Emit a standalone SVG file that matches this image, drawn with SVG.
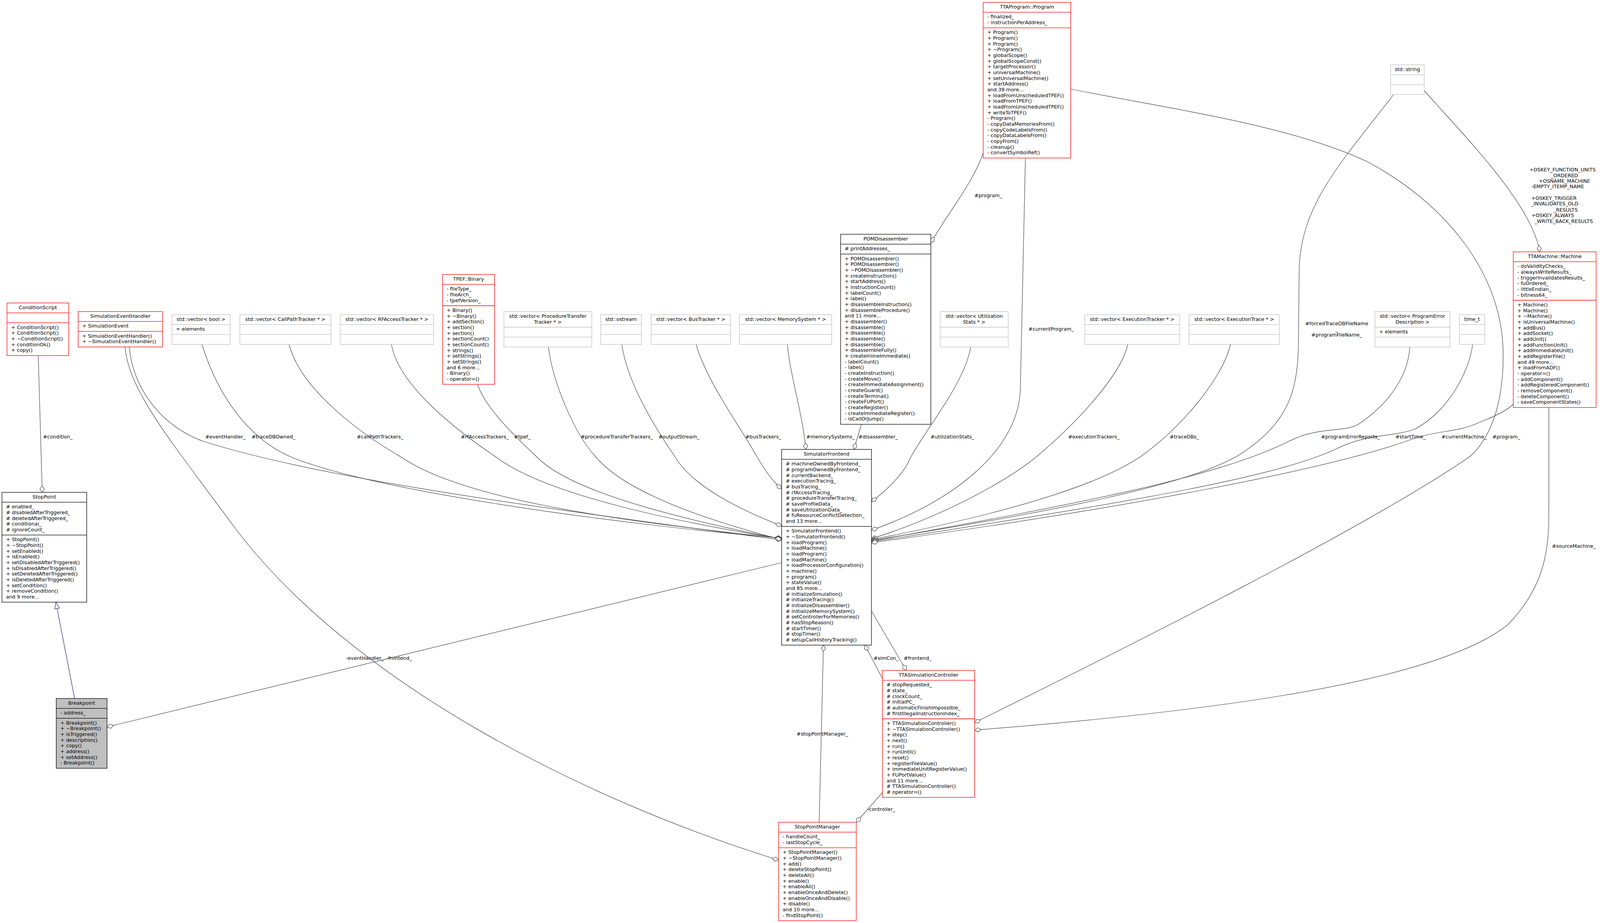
<svg xmlns="http://www.w3.org/2000/svg" width="4147" height="2364" viewBox="0 0 4147 2364">
<style>
text{font-family:"DejaVu Sans","Liberation Sans",sans-serif;font-size:12.7px;fill:#000}
.c{text-anchor:middle}
.n rect{fill:#fff;stroke:#000;stroke-width:1.3}
.n path{fill:none;stroke:#000;stroke-width:1.3}
.r rect,.r path{stroke:#ff0000}
.g rect,.g path{stroke:#bfbfbf}
.bp rect{fill:#bfbfbf}
.e path{fill:none;stroke:#404040;stroke-width:1.2;marker-start:url(#dia)}
.e path.inh{stroke:#191970;marker-start:none;marker-end:url(#tri)}
</style>
<defs>
<marker id="dia" markerUnits="userSpaceOnUse" markerWidth="22" markerHeight="16" refX="1" refY="8" orient="auto" overflow="visible"><path d="M1,8 L9.5,2.5 L18,8 L9.5,13.5 Z" fill="#fff" stroke="#404040" stroke-width="1.2"/></marker>
<marker id="tri" markerUnits="userSpaceOnUse" markerWidth="20" markerHeight="14" refX="17" refY="7" orient="auto" overflow="visible"><path d="M0,1 L17,7 L0,13 Z" fill="#fff" stroke="#191970" stroke-width="1.2"/></marker>
</defs>
<rect width="4147" height="2364" fill="#fff"/>

<g id="edges" class="e">
<path d="M108 1261 L98 911"/>
<path class="inh" d="M191 1789 L143 1542"/>
<path d="M274 1862 L2001 1441"/>
<path d="M1993 2203 C1500 2050 900 1750 600 1350 C430 1120 330 1000 320 889"/>
<path d="M2001 1383 C1300 1290 800 1220 520 1130 C420 1095 340 1000 331 889"/>
<path d="M2001 1378 C1600 1345 960 1260 744 1170 C640 1125 560 1020 517 882"/>
<path d="M2001 1379 C1650 1340 1200 1290 1026 1170 C930 1115 770 1000 740 882"/>
<path d="M2001 1380 C1750 1340 1400 1270 1269 1170 C1180 1110 1020 990 1002 882"/>
<path d="M2001 1381 C1800 1340 1470 1270 1374 1170 C1310 1110 1240 1040 1223 985"/>
<path d="M2001 1382 C1800 1330 1600 1260 1525 1170 C1470 1110 1415 980 1404 889"/>
<path d="M2001 1347 C1880 1300 1770 1240 1728 1170 C1680 1100 1605 980 1592 882"/>
<path d="M2001 1252 C1975 1230 1955 1200 1938 1170 C1900 1100 1810 980 1782 882"/>
<path d="M2063 1151 C2055 1060 2020 950 2016 882"/>
<path d="M2186 1151 L2205 1087"/>
<path d="M2231 1285 C2290 1240 2320 1200 2332 1170 C2370 1100 2470 980 2485 889"/>
<path d="M2231 1358 C2450 1280 2605 1150 2612 1000 L2625 405"/>
<path d="M2231 1380 C2420 1320 2580 1230 2653 1170 C2760 1080 2870 960 2887 882"/>
<path d="M2231 1382 C2550 1320 2800 1250 2919 1170 C3020 1100 3130 970 3150 882"/>
<path d="M2231 1384 C2700 1310 3060 1240 3180 1160 C3300 1080 3322 1000 3324 880 L3326 680 C3335 520 3430 420 3567 243"/>
<path d="M2231 1386 C2700 1300 3100 1230 3300 1130 C3380 1090 3440 1110 3480 1085 C3560 1030 3605 960 3609 889"/>
<path d="M2231 1388 C2800 1300 3250 1230 3420 1150 C3500 1110 3560 1120 3620 1100 C3700 1060 3760 960 3770 882"/>
<path d="M2231 1390 C2900 1300 3400 1200 3600 1130 C3680 1100 3720 1110 3780 1085 C3830 1065 3860 1050 3874 1035"/>
<path d="M2495 1851 C2900 1650 3500 1350 3762 1170 C3830 1110 3850 1000 3848 900 C3845 700 3700 520 3500 414 C3300 320 3000 280 2741 228"/>
<path d="M2495 1870 C3000 1830 3660 1760 3860 1600 C3958 1500 3966 1400 3965 1300 L3965 1044"/>
<path d="M2214 1652 L2259 1738"/>
<path d="M2320 1717 L2231 1565"/>
<path d="M2108 1652 L2097 2106"/>
<path d="M2192 2106 L2259 2030"/>
<path d="M2383 622 C2430 540 2490 470 2517 392"/>
<path d="M3942 645 C3920 520 3750 350 3646 232"/>
</g>

<g id="edge-labels">
<text class="c" x="148" y="1123">#condition_</text>
<text class="c" x="577" y="1123">#eventHandler_</text>
<text class="c" x="700" y="1123">#traceDBOwned_</text>
<text class="c" x="973" y="1123">#callPathTrackers_</text>
<text class="c" x="1241" y="1123">#rfAccessTrackers_</text>
<text class="c" x="1337" y="1123">#tpef_</text>
<text class="c" x="1579" y="1123">#procedureTransferTrackers_</text>
<text class="c" x="1738" y="1123">#outputStream_</text>
<text class="c" x="1954" y="1123">#busTrackers_</text>
<text class="c" x="2126" y="1123">#memorySystems_</text>
<text class="c" x="2248" y="1123">#disassembler_</text>
<text class="c" x="2438" y="1123">#utilizationStats_</text>
<text class="c" x="2800" y="1123">#executionTrackers_</text>
<text class="c" x="3032" y="1123">#traceDBs_</text>
<text class="c" x="3457" y="1123">#programErrorReports_</text>
<text class="c" x="3611" y="1123">#startTime_</text>
<text class="c" x="3748" y="1123">#currentMachine_</text>
<text class="c" x="3856" y="1123">#program_</text>
<text class="c" x="2530" y="505">#program_</text>
<text class="c" x="2691" y="847">#currentProgram_</text>
<text class="c" x="3422" y="833">#forcedTraceDBFileName</text>
<text class="c" x="3422" y="848">_</text>
<text class="c" x="3422" y="862">#programFileName_</text>
<text class="c" x="934" y="1690">-eventHandler_</text>
<text class="c" x="1022" y="1690">-frontend_</text>
<text class="c" x="2268" y="1690">#simCon_</text>
<text class="c" x="2349" y="1690">#frontend_</text>
<text class="c" x="2105" y="1884">#stopPointManager_</text>
<text class="c" x="2256" y="2077">-controller_</text>
<text x="3973" y="1403">#sourceMachine_</text>
<text class="c" x="4000" y="439">+OSKEY_FUNCTION_UNITS</text>
<text class="c" x="4005" y="454">_ORDERED</text>
<text class="c" x="4005" y="468">+OSNAME_MACHINE</text>
<text class="c" x="3988" y="482">-EMPTY_ITEMP_NAME</text>
<text class="c" x="3978" y="512">+OSKEY_TRIGGER</text>
<text class="c" x="3980" y="526">_INVALIDATES_OLD</text>
<text class="c" x="4008" y="542">_RESULTS</text>
<text class="c" x="3975" y="556">+OSKEY_ALWAYS</text>
<text class="c" x="4003" y="571">_WRITE_BACK_RESULTS</text>
</g>

<g id="ConditionScript" class="n r">
<rect x="18" y="776" width="158" height="134.67"/>
<path d="M18 801.33H176M18 826.67H176"/>
<text class="c" x="97" y="792">ConditionScript</text>
<text x="28.5" y="842.67"><tspan x="28.5">+ ConditionScript()</tspan><tspan x="28.5" dy="14.67">+ ConditionScript()</tspan><tspan x="28.5" dy="14.67">+ ~ConditionScript()</tspan><tspan x="28.5" dy="14.67">+ conditionOk()</tspan><tspan x="28.5" dy="14.67">+ copy()</tspan></text>
</g>

<g id="SimulationEventHandler" class="n r">
<rect x="200" y="798" width="216" height="90.67"/>
<path d="M200 823.33H416M200 848.67H416"/>
<text class="c" x="308" y="814">SimulationEventHandler</text>
<text x="210.5" y="839.33">+ SimulationEvent</text>
<text x="210.5" y="864.67"><tspan x="210.5">+ SimulationEventHandler()</tspan><tspan x="210.5" dy="14.67">+ ~SimulationEventHandler()</tspan></text>
</g>

<g id="vector_bool" class="n g">
<rect x="440" y="806" width="149" height="76"/>
<path d="M440 831.33H589M440 856.67H589"/>
<text class="c" x="514.5" y="822">std::vector&lt; bool &gt;</text>
<text x="450.5" y="847.33">+ elements</text>
</g>

<g id="vector_CallPathTracker" class="n g">
<rect x="614" y="806" width="233" height="76"/>
<path d="M614 831.33H847M614 856.67H847"/>
<text class="c" x="730.5" y="822">std::vector&lt; CallPathTracker * &gt;</text>
</g>

<g id="vector_RFAccessTracker" class="n g">
<rect x="871" y="806" width="239" height="76"/>
<path d="M871 831.33H1110M871 856.67H1110"/>
<text class="c" x="990.5" y="822">std::vector&lt; RFAccessTracker * &gt;</text>
</g>

<g id="TPEF_Binary" class="n r">
<rect x="1133" y="703" width="133" height="281.33"/>
<path d="M1133 728.33H1266M1133 783H1266"/>
<text class="c" x="1199.5" y="719">TPEF::Binary</text>
<text x="1143.5" y="744.33"><tspan x="1143.5">- fileType_</tspan><tspan x="1143.5" dy="14.67">- fileArch_</tspan><tspan x="1143.5" dy="14.67">- tpefVersion_</tspan></text>
<text x="1143.5" y="799"><tspan x="1143.5">+ Binary()</tspan><tspan x="1143.5" dy="14.67">+ ~Binary()</tspan><tspan x="1143.5" dy="14.67">+ addSection()</tspan><tspan x="1143.5" dy="14.67">+ section()</tspan><tspan x="1143.5" dy="14.67">+ section()</tspan><tspan x="1143.5" dy="14.67">+ sectionCount()</tspan><tspan x="1143.5" dy="14.67">+ sectionCount()</tspan><tspan x="1143.5" dy="14.67">+ strings()</tspan><tspan x="1143.5" dy="14.67">+ setStrings()</tspan><tspan x="1143.5" dy="14.67">+ setStrings()</tspan><tspan x="1143.5" dy="14.67">and 6 more...</tspan><tspan x="1143.5" dy="14.67">- Binary()</tspan><tspan x="1143.5" dy="14.67">- operator=()</tspan></text>
</g>

<g id="vector_ProcedureTransferTracker" class="n g">
<rect x="1290" y="798" width="225" height="90.67"/>
<path d="M1290 838H1515M1290 863.33H1515"/>
<text class="c" x="1402.5" y="814"><tspan x="1402.5">std::vector&lt; ProcedureTransfer</tspan><tspan x="1402.5" dy="14.67">Tracker * &gt;</tspan></text>
</g>

<g id="std_ostream" class="n g">
<rect x="1538" y="806" width="104" height="76"/>
<path d="M1538 831.33H1642M1538 856.67H1642"/>
<text class="c" x="1590" y="822">std::ostream</text>
</g>

<g id="vector_BusTracker" class="n g">
<rect x="1667" y="806" width="203" height="76"/>
<path d="M1667 831.33H1870M1667 856.67H1870"/>
<text class="c" x="1768.5" y="822">std::vector&lt; BusTracker * &gt;</text>
</g>

<g id="vector_MemorySystem" class="n g">
<rect x="1893" y="806" width="236" height="76"/>
<path d="M1893 831.33H2129M1893 856.67H2129"/>
<text class="c" x="2011" y="822">std::vector&lt; MemorySystem * &gt;</text>
</g>

<g id="POMDisassembler" class="n">
<rect x="2152" y="600" width="231" height="486.67"/>
<path d="M2152 625.33H2383M2152 650.67H2383"/>
<text class="c" x="2267.5" y="616">POMDisassembler</text>
<text x="2162.5" y="641.33"># printAddresses_</text>
<text x="2162.5" y="666.67"><tspan x="2162.5">+ POMDisassembler()</tspan><tspan x="2162.5" dy="14.67">+ POMDisassembler()</tspan><tspan x="2162.5" dy="14.67">+ ~POMDisassembler()</tspan><tspan x="2162.5" dy="14.67">+ createInstruction()</tspan><tspan x="2162.5" dy="14.67">+ startAddress()</tspan><tspan x="2162.5" dy="14.67">+ instructionCount()</tspan><tspan x="2162.5" dy="14.67">+ labelCount()</tspan><tspan x="2162.5" dy="14.67">+ label()</tspan><tspan x="2162.5" dy="14.67">+ disassembleInstruction()</tspan><tspan x="2162.5" dy="14.67">+ disassembleProcedure()</tspan><tspan x="2162.5" dy="14.67">and 11 more...</tspan><tspan x="2162.5" dy="14.67">+ disassembler()</tspan><tspan x="2162.5" dy="14.67">+ disassemble()</tspan><tspan x="2162.5" dy="14.67">+ disassemble()</tspan><tspan x="2162.5" dy="14.67">+ disassemble()</tspan><tspan x="2162.5" dy="14.67">+ disassemble()</tspan><tspan x="2162.5" dy="14.67">+ disassembleFully()</tspan><tspan x="2162.5" dy="14.67">+ createInlineImmediate()</tspan><tspan x="2162.5" dy="14.67">- labelCount()</tspan><tspan x="2162.5" dy="14.67">- label()</tspan><tspan x="2162.5" dy="14.67">- createInstruction()</tspan><tspan x="2162.5" dy="14.67">- createMove()</tspan><tspan x="2162.5" dy="14.67">- createImmediateAssignment()</tspan><tspan x="2162.5" dy="14.67">- createGuard()</tspan><tspan x="2162.5" dy="14.67">- createTerminal()</tspan><tspan x="2162.5" dy="14.67">- createFUPort()</tspan><tspan x="2162.5" dy="14.67">- createRegister()</tspan><tspan x="2162.5" dy="14.67">- createImmediateRegister()</tspan><tspan x="2162.5" dy="14.67">- isCallOrJump()</tspan></text>
</g>

<g id="TTAProgram_Program" class="n r">
<rect x="2517" y="6" width="224" height="398.67"/>
<path d="M2517 31.33H2741M2517 71.33H2741"/>
<text class="c" x="2629" y="22">TTAProgram::Program</text>
<text x="2527.5" y="47.33"><tspan x="2527.5">- finalized_</tspan><tspan x="2527.5" dy="14.67">- instructionPerAddress_</tspan></text>
<text x="2527.5" y="87.33"><tspan x="2527.5">+ Program()</tspan><tspan x="2527.5" dy="14.67">+ Program()</tspan><tspan x="2527.5" dy="14.67">+ Program()</tspan><tspan x="2527.5" dy="14.67">+ ~Program()</tspan><tspan x="2527.5" dy="14.67">+ globalScope()</tspan><tspan x="2527.5" dy="14.67">+ globalScopeConst()</tspan><tspan x="2527.5" dy="14.67">+ targetProcessor()</tspan><tspan x="2527.5" dy="14.67">+ universalMachine()</tspan><tspan x="2527.5" dy="14.67">+ setUniversalMachine()</tspan><tspan x="2527.5" dy="14.67">+ startAddress()</tspan><tspan x="2527.5" dy="14.67">and 39 more...</tspan><tspan x="2527.5" dy="14.67">+ loadFromUnscheduledTPEF()</tspan><tspan x="2527.5" dy="14.67">+ loadFromTPEF()</tspan><tspan x="2527.5" dy="14.67">+ loadFromUnscheduledTPEF()</tspan><tspan x="2527.5" dy="14.67">+ writeToTPEF()</tspan><tspan x="2527.5" dy="14.67">- Program()</tspan><tspan x="2527.5" dy="14.67">- copyDataMemoriesFrom()</tspan><tspan x="2527.5" dy="14.67">- copyCodeLabelsFrom()</tspan><tspan x="2527.5" dy="14.67">- copyDataLabelsFrom()</tspan><tspan x="2527.5" dy="14.67">- copyFrom()</tspan><tspan x="2527.5" dy="14.67">- cleanup()</tspan><tspan x="2527.5" dy="14.67">- convertSymbolRef()</tspan></text>
</g>

<g id="vector_UtilizationStats" class="n g">
<rect x="2407" y="798" width="174" height="90.67"/>
<path d="M2407 838H2581M2407 863.33H2581"/>
<text class="c" x="2494" y="814"><tspan x="2494">std::vector&lt; Utilization</tspan><tspan x="2494" dy="14.67">Stats * &gt;</tspan></text>
</g>

<g id="vector_ExecutionTracker" class="n g">
<rect x="2777" y="806" width="243" height="76"/>
<path d="M2777 831.33H3020M2777 856.67H3020"/>
<text class="c" x="2898.5" y="822">std::vector&lt; ExecutionTracker * &gt;</text>
</g>

<g id="vector_ExecutionTrace" class="n g">
<rect x="3044" y="806" width="231" height="76"/>
<path d="M3044 831.33H3275M3044 856.67H3275"/>
<text class="c" x="3159.5" y="822">std::vector&lt; ExecutionTrace * &gt;</text>
</g>

<g id="std_string" class="n g">
<rect x="3560" y="166" width="86" height="76"/>
<path d="M3560 191.33H3646M3560 216.67H3646"/>
<text class="c" x="3603" y="182">std::string</text>
</g>

<g id="vector_ProgramErrorDescription" class="n g">
<rect x="3520" y="798" width="192" height="90.67"/>
<path d="M3520 838H3712M3520 863.33H3712"/>
<text class="c" x="3616" y="814"><tspan x="3616">std::vector&lt; ProgramError</tspan><tspan x="3616" dy="14.67">Description &gt;</tspan></text>
<text x="3530.5" y="854">+ elements</text>
</g>

<g id="time_t" class="n g">
<rect x="3736" y="806" width="65" height="76"/>
<path d="M3736 831.33H3801M3736 856.67H3801"/>
<text class="c" x="3768.5" y="822">time_t</text>
</g>

<g id="TTAMachine_Machine" class="n r">
<rect x="3874" y="645" width="212" height="398.67"/>
<path d="M3874 670.33H4086M3874 769H4086"/>
<text class="c" x="3980" y="661">TTAMachine::Machine</text>
<text x="3884.5" y="686.33"><tspan x="3884.5">- doValidityChecks_</tspan><tspan x="3884.5" dy="14.67">- alwaysWriteResults_</tspan><tspan x="3884.5" dy="14.67">- triggerInvalidatesResults_</tspan><tspan x="3884.5" dy="14.67">- fuOrdered_</tspan><tspan x="3884.5" dy="14.67">- littleEndian_</tspan><tspan x="3884.5" dy="14.67">- bitness64_</tspan></text>
<text x="3884.5" y="785"><tspan x="3884.5">+ Machine()</tspan><tspan x="3884.5" dy="14.67">+ Machine()</tspan><tspan x="3884.5" dy="14.67">+ ~Machine()</tspan><tspan x="3884.5" dy="14.67">+ isUniversalMachine()</tspan><tspan x="3884.5" dy="14.67">+ addBus()</tspan><tspan x="3884.5" dy="14.67">+ addSocket()</tspan><tspan x="3884.5" dy="14.67">+ addUnit()</tspan><tspan x="3884.5" dy="14.67">+ addFunctionUnit()</tspan><tspan x="3884.5" dy="14.67">+ addImmediateUnit()</tspan><tspan x="3884.5" dy="14.67">+ addRegisterFile()</tspan><tspan x="3884.5" dy="14.67">and 49 more...</tspan><tspan x="3884.5" dy="14.67">+ loadFromADF()</tspan><tspan x="3884.5" dy="14.67">- operator=()</tspan><tspan x="3884.5" dy="14.67">- addComponent()</tspan><tspan x="3884.5" dy="14.67">- addRegisteredComponent()</tspan><tspan x="3884.5" dy="14.67">- removeComponent()</tspan><tspan x="3884.5" dy="14.67">- deleteComponent()</tspan><tspan x="3884.5" dy="14.67">- saveComponentStates()</tspan></text>
</g>

<g id="SimulatorFrontend" class="n">
<rect x="2001" y="1151" width="230" height="501.33"/>
<path d="M2001 1176.33H2231M2001 1348.33H2231"/>
<text class="c" x="2116" y="1167">SimulatorFrontend</text>
<text x="2011.5" y="1192.33"><tspan x="2011.5"># machineOwnedByFrontend_</tspan><tspan x="2011.5" dy="14.67"># programOwnedByFrontend_</tspan><tspan x="2011.5" dy="14.67"># currentBackend_</tspan><tspan x="2011.5" dy="14.67"># executionTracing_</tspan><tspan x="2011.5" dy="14.67"># busTracing_</tspan><tspan x="2011.5" dy="14.67"># rfAccessTracing_</tspan><tspan x="2011.5" dy="14.67"># procedureTransferTracing_</tspan><tspan x="2011.5" dy="14.67"># saveProfileData_</tspan><tspan x="2011.5" dy="14.67"># saveUtilizationData_</tspan><tspan x="2011.5" dy="14.67"># fuResourceConflictDetection_</tspan><tspan x="2011.5" dy="14.67">and 13 more...</tspan></text>
<text x="2011.5" y="1364.33"><tspan x="2011.5">+ SimulatorFrontend()</tspan><tspan x="2011.5" dy="14.67">+ ~SimulatorFrontend()</tspan><tspan x="2011.5" dy="14.67">+ loadProgram()</tspan><tspan x="2011.5" dy="14.67">+ loadMachine()</tspan><tspan x="2011.5" dy="14.67">+ loadProgram()</tspan><tspan x="2011.5" dy="14.67">+ loadMachine()</tspan><tspan x="2011.5" dy="14.67">+ loadProcessorConfiguration()</tspan><tspan x="2011.5" dy="14.67">+ machine()</tspan><tspan x="2011.5" dy="14.67">+ program()</tspan><tspan x="2011.5" dy="14.67">+ stateValue()</tspan><tspan x="2011.5" dy="14.67">and 85 more...</tspan><tspan x="2011.5" dy="14.67"># initializeSimulation()</tspan><tspan x="2011.5" dy="14.67"># initializeTracing()</tspan><tspan x="2011.5" dy="14.67"># initializeDisassembler()</tspan><tspan x="2011.5" dy="14.67"># initializeMemorySystem()</tspan><tspan x="2011.5" dy="14.67"># setControllerForMemories()</tspan><tspan x="2011.5" dy="14.67"># hasStopReason()</tspan><tspan x="2011.5" dy="14.67"># startTimer()</tspan><tspan x="2011.5" dy="14.67"># stopTimer()</tspan><tspan x="2011.5" dy="14.67"># setupCallHistoryTracking()</tspan></text>
</g>

<g id="TTASimulationController" class="n r">
<rect x="2259" y="1717" width="236" height="325.33"/>
<path d="M2259 1742.33H2495M2259 1841H2495"/>
<text class="c" x="2377" y="1733">TTASimulationController</text>
<text x="2269.5" y="1758.33"><tspan x="2269.5"># stopRequested_</tspan><tspan x="2269.5" dy="14.67"># state_</tspan><tspan x="2269.5" dy="14.67"># clockCount_</tspan><tspan x="2269.5" dy="14.67"># initialPC_</tspan><tspan x="2269.5" dy="14.67"># automaticFinishImpossible_</tspan><tspan x="2269.5" dy="14.67"># firstIllegalInstructionIndex_</tspan></text>
<text x="2269.5" y="1857"><tspan x="2269.5">+ TTASimulationController()</tspan><tspan x="2269.5" dy="14.67">+ ~TTASimulationController()</tspan><tspan x="2269.5" dy="14.67">+ step()</tspan><tspan x="2269.5" dy="14.67">+ next()</tspan><tspan x="2269.5" dy="14.67">+ run()</tspan><tspan x="2269.5" dy="14.67">+ runUntil()</tspan><tspan x="2269.5" dy="14.67">+ reset()</tspan><tspan x="2269.5" dy="14.67">+ registerFileValue()</tspan><tspan x="2269.5" dy="14.67">+ immediateUnitRegisterValue()</tspan><tspan x="2269.5" dy="14.67">+ FUPortValue()</tspan><tspan x="2269.5" dy="14.67">and 11 more...</tspan><tspan x="2269.5" dy="14.67"># TTASimulationController()</tspan><tspan x="2269.5" dy="14.67"># operator=()</tspan></text>
</g>

<g id="StopPointManager" class="n r">
<rect x="1993" y="2106" width="199" height="252"/>
<path d="M1993 2131.33H2192M1993 2171.33H2192"/>
<text class="c" x="2092.5" y="2122">StopPointManager</text>
<text x="2003.5" y="2147.33"><tspan x="2003.5">- handleCount_</tspan><tspan x="2003.5" dy="14.67">- lastStopCycle_</tspan></text>
<text x="2003.5" y="2187.33"><tspan x="2003.5">+ StopPointManager()</tspan><tspan x="2003.5" dy="14.67">+ ~StopPointManager()</tspan><tspan x="2003.5" dy="14.67">+ add()</tspan><tspan x="2003.5" dy="14.67">+ deleteStopPoint()</tspan><tspan x="2003.5" dy="14.67">+ deleteAll()</tspan><tspan x="2003.5" dy="14.67">+ enable()</tspan><tspan x="2003.5" dy="14.67">+ enableAll()</tspan><tspan x="2003.5" dy="14.67">+ enableOnceAndDelete()</tspan><tspan x="2003.5" dy="14.67">+ enableOnceAndDisable()</tspan><tspan x="2003.5" dy="14.67">+ disable()</tspan><tspan x="2003.5" dy="14.67">and 10 more...</tspan><tspan x="2003.5" dy="14.67">- findStopPoint()</tspan></text>
</g>

<g id="StopPoint" class="n">
<rect x="5" y="1261" width="217" height="281.33"/>
<path d="M5 1286.33H222M5 1370.33H222"/>
<text class="c" x="113.5" y="1277">StopPoint</text>
<text x="15.5" y="1302.33"><tspan x="15.5"># enabled_</tspan><tspan x="15.5" dy="14.67"># disabledAfterTriggered_</tspan><tspan x="15.5" dy="14.67"># deletedAfterTriggered_</tspan><tspan x="15.5" dy="14.67"># conditional_</tspan><tspan x="15.5" dy="14.67"># ignoreCount_</tspan></text>
<text x="15.5" y="1386.33"><tspan x="15.5">+ StopPoint()</tspan><tspan x="15.5" dy="14.67">+ ~StopPoint()</tspan><tspan x="15.5" dy="14.67">+ setEnabled()</tspan><tspan x="15.5" dy="14.67">+ isEnabled()</tspan><tspan x="15.5" dy="14.67">+ setDisabledAfterTriggered()</tspan><tspan x="15.5" dy="14.67">+ isDisabledAfterTriggered()</tspan><tspan x="15.5" dy="14.67">+ setDeletedAfterTriggered()</tspan><tspan x="15.5" dy="14.67">+ isDeletedAfterTriggered()</tspan><tspan x="15.5" dy="14.67">+ setCondition()</tspan><tspan x="15.5" dy="14.67">+ removeCondition()</tspan><tspan x="15.5" dy="14.67">and 9 more...</tspan></text>
</g>

<g id="Breakpoint" class="n bp">
<rect x="144" y="1789" width="130" height="178.67"/>
<path d="M144 1814.33H274M144 1839.67H274"/>
<text class="c" x="209" y="1805">Breakpoint</text>
<text x="154.5" y="1830.33">- address_</text>
<text x="154.5" y="1855.67"><tspan x="154.5">+ Breakpoint()</tspan><tspan x="154.5" dy="14.67">+ ~Breakpoint()</tspan><tspan x="154.5" dy="14.67">+ isTriggered()</tspan><tspan x="154.5" dy="14.67">+ description()</tspan><tspan x="154.5" dy="14.67">+ copy()</tspan><tspan x="154.5" dy="14.67">+ address()</tspan><tspan x="154.5" dy="14.67">+ setAddress()</tspan><tspan x="154.5" dy="14.67">- Breakpoint()</tspan></text>
</g>
</svg>
